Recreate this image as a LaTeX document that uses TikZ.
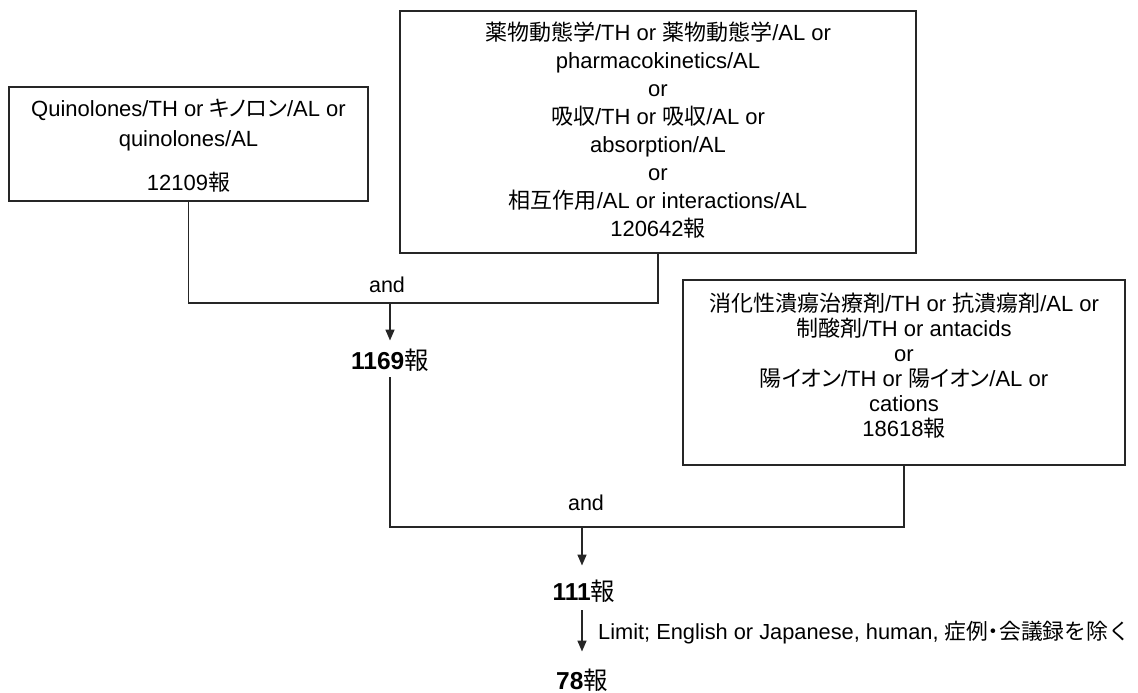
\documentclass[tikz,border=0pt]{standalone}
\usepackage{fontspec}
\setmainfont{Liberation Sans}
\newfontfamily\jp{Noto Sans CJK JP}
\newfontfamily\jpp[RawFeature=+palt]{Noto Sans CJK JP}
\usetikzlibrary{arrows.meta}
\begin{document}
\begin{tikzpicture}[x=1pt,y=-1pt,
  box/.style={draw=black!85, line width=1.6pt, inner sep=0pt},
  txt/.style={inner sep=0pt, align=center},
  conn/.style={draw=black!85, line width=1.6pt},
  arr/.style={conn, -{Triangle[width=9pt,length=11pt]}},
  lbl/.style={inner sep=0pt, font=\fontsize{21.5}{24}\selectfont},
  cnt/.style={inner sep=0pt, font=\fontsize{24.5}{28}\selectfont\bfseries}]
\useasboundingbox (0,0) rectangle (1138,693);

% boxes
\node[box, minimum width=359pt, minimum height=114pt] (b1) at (188.5,144) {};
\node[txt, font=\fontsize{22}{30}\selectfont] (t1) at (188.5,145.5)
  {Quinolones/TH or {\jpp キノロン}/AL or\\quinolones/AL\\[14pt]12109{\jp 報}};

\node[box, minimum width=516pt, minimum height=242pt] (b2) at (658,132) {};
\node[txt, font=\fontsize{22}{28}\selectfont] (t2) at (658,130)
  {{\jp 薬物動態学}/TH or {\jp 薬物動態学}/AL or\\pharmacokinetics/AL\\or\\{\jp 吸収}/TH or {\jp 吸収}/AL or\\absorption/AL\\or\\{\jp 相互作用}/AL or interactions/AL\\120642{\jp 報}};

\node[box, minimum width=442pt, minimum height=185pt] (b3) at (904,372.5) {};
\node[txt, font=\fontsize{22}{25}\selectfont] (t3) at (904,366)
  {{\jp 消化性潰瘍治療剤}/TH or {\jp 抗潰瘍剤}/AL or\\{\jp 制酸剤}/TH or antacids\\or\\{\jp 陽}{\jpp イオン}/TH or {\jp 陽}{\jpp イオン}/AL or\\cations\\18618{\jp 報}};

% result counts
\node[cnt] (n1169) at (390,360) {1169{\jp\mdseries 報}};
\node[cnt] (n111) at (584,591) {111{\jp\mdseries 報}};
\node[cnt] (n78) at (582,680) {78{\jp\mdseries 報}};

% joins
\coordinate (j1) at (390,303);
\coordinate (j2) at (582,527);

% first and
\draw[conn] (b1.south) |- (j1) -| (b2.south);
\node[lbl] (and1) at (387,285) {and};
\draw[arr, shorten >=8pt] (j1) -- (n1169.north -| j1);

% second and
\draw[conn, shorten <=6pt] (n1169.south -| j1) |- (j2) -| (b3.south);
\node[lbl] (and2) at (586,503) {and};
\draw[arr, shorten >=14pt] (j2) -- (n111.north -| j2);

% limit
\draw[arr, shorten <=8pt, shorten >=17pt] (n111.south -| j2) -- (n78.north -| j2);
\node[lbl, anchor=west, font=\fontsize{21.8}{24}\selectfont] (lim) at (598,633)
  {Limit; English or Japanese, human, {\jp 症例}{\jpp ・}{\jp 会議録を除く}};
\end{tikzpicture}
\end{document}
